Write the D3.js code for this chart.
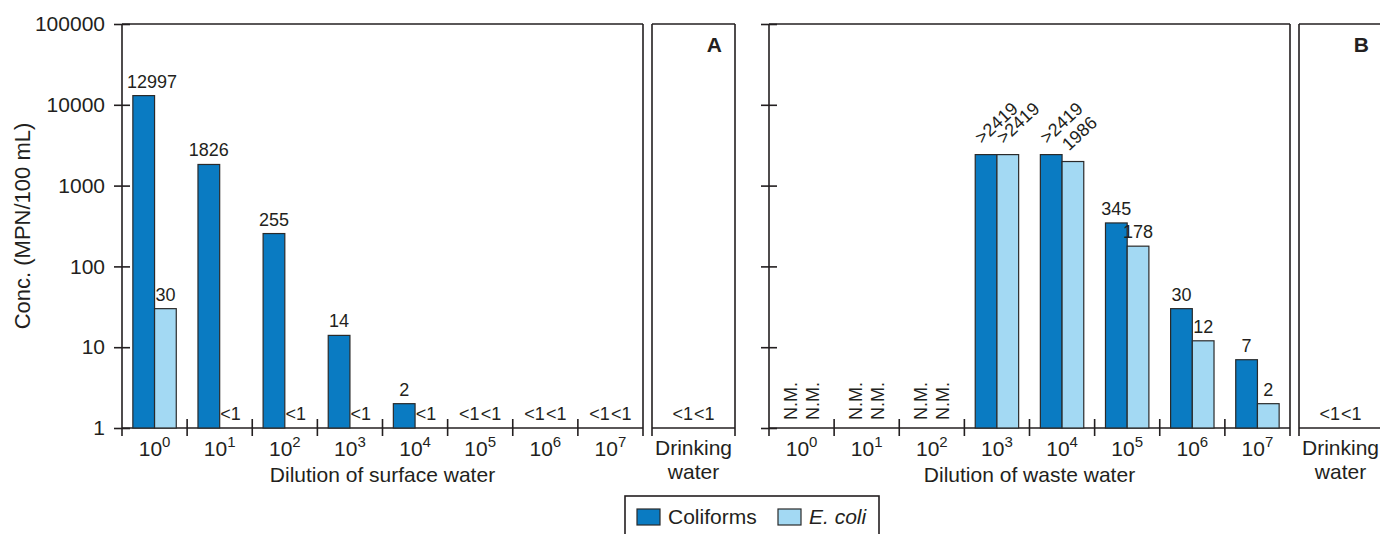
<!DOCTYPE html>
<html><head><meta charset="utf-8">
<script src="https://cdn.jsdelivr.net/npm/d3@7"></script>
<style>
body{margin:0;background:#fff;}
svg{display:block;font-family:"Liberation Sans",Arial,Helvetica,sans-serif;}
</style></head><body>
<svg id="chart" width="1380" height="534"></svg>
<script>
// ---------- data ----------
const dilutions = ["0","1","2","3","4","5","6","7"]; // exponents of 10
const seriesNames = ["Coliforms","E. coli"];
const yTicks = [1,10,100,1000,10000,100000];
const surfaceColiform = [12997,1826,255,14,2,null,null,null];
const surfaceColiformLabels = ["12997","1826","255","14","2","<1","<1","<1"];
const surfaceEcoli = [30,null,null,null,null,null,null,null];
const surfaceEcoliLabels = ["30","<1","<1","<1","<1","<1","<1","<1"];
const wasteColiform = [null,null,null,2419,2419,345,30,7];
const wasteColiformLabels = ["N.M.","N.M.","N.M.",">2419",">2419","345","30","7"];
const wasteEcoli = [null,null,null,2419,1986,178,12,2];
const wasteEcoliLabels = ["N.M.","N.M.","N.M.",">2419","1986","178","12","2"];
const drinkingSurface = [null,null];
const drinkingSurfaceLabels = ["<1","<1"];
const drinkingWaste = [null,null];
const drinkingWasteLabels = ["<1","<1"];
const panelTitles = ["Dilution of surface water","Dilution of waste water"];
const panelLetters = ["A","B"];
const drinkingLabel = ["Drinking","water"];
const yTitle = "Conc. (MPN/100 mL)";

// ---------- style ----------
const INK = "#231f20";
const colors = {"Coliforms":"#0a7bc2","E. coli":"#a3d9f3"};
const svg = d3.select("#chart");
const topY = 24, baseY = 428, belowY = 436;
const y = d3.scaleLog().domain([1,100000]).range([baseY, topY]);

function line(g,x1,y1,x2,y2,w){
  g.append("line").attr("x1",x1).attr("y1",y1).attr("x2",x2).attr("y2",y2)
   .attr("stroke",INK).attr("stroke-width",w||1.6);
}

function drawBars(g, xScale, cats, sub, coli, coliLab, eco, ecoLab, rotateIdx, leftBound){
  const data = cats.flatMap((c,i)=>[
    {c, i, s:seriesNames[0], v:coli[i], lab:coliLab[i]},
    {c, i, s:seriesNames[1], v:eco[i], lab:ecoLab[i]}]);
  const bars = data.filter(d=>d.v!=null);
  g.selectAll(null).data(bars).join("rect")
    .attr("x",d=>xScale(d.c)+sub(d.s))
    .attr("width",sub.bandwidth())
    .attr("y",d=>y(d.v))
    .attr("height",d=>y(1)-y(d.v))
    .attr("fill",d=>colors[d.s])
    .attr("stroke","#2a2a2a").attr("stroke-width",1.2);
  data.forEach(d=>{
    const cx = xScale(d.c)+sub(d.s)+sub.bandwidth()/2;
    const t = g.append("text").attr("fill",INK).attr("font-size",18).text(d.lab);
    if(d.v==null){
      if(d.lab==="N.M."){
        t.attr("transform",`translate(${cx},420) rotate(-90)`).attr("dy","0.35em").attr("text-anchor","start");
      } else {
        t.attr("x",cx).attr("y",420).attr("text-anchor","middle");
      }
    } else if(rotateIdx.includes(d.i)){
      t.attr("transform",`translate(${cx-4},${y(d.v)-10}) rotate(-43)`).attr("text-anchor","start");
    } else {
      t.attr("x",cx).attr("y",y(d.v)-8).attr("text-anchor","middle");
      const w = t.node().getComputedTextLength();
      if(leftBound!=null && cx - w/2 < leftBound) t.attr("x", leftBound + w/2);
    }
  });
}

function drawPanel(cfg){
  const g = svg.append("g");
  const x = d3.scaleBand().domain(dilutions).range([cfg.x0,cfg.x1]).padding(0);
  const sub = d3.scaleBand().domain(seriesNames).range([0,x.bandwidth()]).paddingInner(0).paddingOuter(0.5);

  // y axis (ticks crossing axis line)
  const ya = g.append("g").attr("transform",`translate(${cfg.x0+8},0)`)
    .call(d3.axisLeft(y).tickValues(yTicks).tickSize(16).tickPadding(9)
      .tickFormat(cfg.yLabels ? d3.format("d") : ()=>""));
  ya.select(".domain").remove();
  ya.selectAll(".tick line").attr("stroke",INK).attr("stroke-width",1.6);
  ya.selectAll(".tick text").attr("fill",INK).attr("font-size",21)
    .attr("font-family",'"Liberation Sans",Arial,sans-serif');

  // frame
  line(g,cfg.x0,topY,cfg.x0,belowY);
  line(g,cfg.x0,topY,cfg.x1,topY);
  line(g,cfg.x1,topY,cfg.x1,belowY);
  line(g,cfg.x0,baseY,cfg.x1,baseY);
  dilutions.slice(1).forEach(d=>line(g,x(d),419,x(d),belowY));

  // x tick labels
  const xa = g.append("g").attr("transform",`translate(0,${baseY})`)
    .call(d3.axisBottom(x).tickSize(0).tickFormat(()=>""));
  xa.select(".domain").remove();
  xa.selectAll(".tick text").attr("y",28).attr("dy",null).attr("fill",INK)
    .attr("font-size",21).attr("font-family",'"Liberation Sans",Arial,sans-serif')
    .each(function(d){
      const t = d3.select(this);
      t.append("tspan").text("10");
      t.append("tspan").attr("dy",-9).attr("font-size",15).text(d);
    });

  drawBars(g, x, dilutions, sub, cfg.coli, cfg.coliLab, cfg.eco, cfg.ecoLab, cfg.rotateIdx, cfg.x0+5);

  g.append("text").attr("x",(cfg.x0+cfg.x1)/2).attr("y",482).attr("text-anchor","middle")
    .attr("font-size",21).attr("fill",INK).text(cfg.title);

  // drinking water panel
  const dx = d3.scaleBand().domain(["dw"]).range([cfg.dx0,cfg.dx1]).padding(0);
  const sw = sub.bandwidth();
  const dsub = d3.scaleBand().domain(seriesNames)
    .range([dx.bandwidth()/2 - sw, dx.bandwidth()/2 + sw]).padding(0);
  line(g,cfg.dx0,topY,cfg.dx0,belowY);
  line(g,cfg.dx0,topY,cfg.dx1,topY);
  line(g,cfg.dx1,topY,cfg.dx1,belowY);
  line(g,cfg.dx0,baseY,cfg.dx1,baseY);
  drawBars(g, dx, ["dw"], dsub, cfg.dcoli, cfg.dcoliLab, cfg.deco, cfg.decoLab, [], null);
  const dcx = (cfg.dx0+cfg.dx1)/2;
  drinkingLabel.forEach((s,i)=>g.append("text").attr("x",dcx).attr("y",455+i*24)
    .attr("text-anchor","middle").attr("font-size",21).attr("fill",INK).text(s));
  g.append("text").attr("x",cfg.dx1-13).attr("y",52).attr("text-anchor","end")
    .attr("font-size",21).attr("font-weight","bold").attr("fill",INK).text(cfg.letter);
}

drawPanel({x0:122,x1:643,dx0:652,dx1:735,yLabels:true,
  coli:surfaceColiform,coliLab:surfaceColiformLabels,eco:surfaceEcoli,ecoLab:surfaceEcoliLabels,
  dcoli:[drinkingSurface[0]],dcoliLab:[drinkingSurfaceLabels[0]],deco:[drinkingSurface[1]],decoLab:[drinkingSurfaceLabels[1]],
  rotateIdx:[],title:panelTitles[0],letter:panelLetters[0]});
drawPanel({x0:769,x1:1290,dx0:1299,dx1:1382,yLabels:false,
  coli:wasteColiform,coliLab:wasteColiformLabels,eco:wasteEcoli,ecoLab:wasteEcoliLabels,
  dcoli:[drinkingWaste[0]],dcoliLab:[drinkingWasteLabels[0]],deco:[drinkingWaste[1]],decoLab:[drinkingWasteLabels[1]],
  rotateIdx:[3,4],title:panelTitles[1],letter:panelLetters[1]});

// y axis title
svg.append("text").attr("transform","translate(30,226) rotate(-90)").attr("text-anchor","middle")
  .attr("font-size",22).attr("fill",INK).text(yTitle);

// legend
const lg = svg.append("g");
lg.append("rect").attr("x",625).attr("y",496).attr("width",254).attr("height",50)
  .attr("fill","#fff").attr("stroke",INK).attr("stroke-width",1.6);
const lx = [637,778];
seriesNames.forEach((s,i)=>{
  lg.append("rect").attr("x",lx[i]).attr("y",509).attr("width",23).attr("height",16)
    .attr("fill",colors[s]).attr("stroke","#2a2a2a").attr("stroke-width",1.2);
  lg.append("text").attr("x",lx[i]+31).attr("y",524).attr("font-size",21).attr("fill",INK)
    .attr("font-style",i===1?"italic":"normal").text(s);
});
</script>
</body></html>
